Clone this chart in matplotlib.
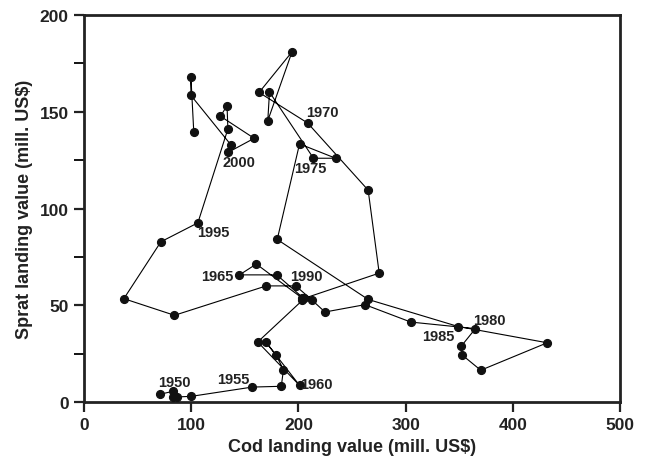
import matplotlib
matplotlib.use("Agg")
import matplotlib.pyplot as plt
from matplotlib.ticker import MultipleLocator

plt.rcParams['font.family'] = ['Liberation Sans', 'DejaVu Sans']
plt.rcParams['font.weight'] = 'bold'

# landing values per year, 1950-2004 (mill. US$)
years = list(range(1950, 2005))
cod = [71, 83, 83, 87, 100, 157, 184, 186, 179, 169.5,
       201, 162, 203.6, 203, 160.7, 145, 179.8, 205, 275.3, 265,
       208.6, 163.3, 194, 171.4, 173, 214, 234.7, 201, 180.2, 265,
       349, 432, 370, 352.4, 351.6, 365, 304.8, 262, 224.7, 212.4,
       197.5, 170, 84.4, 37.2, 71.7, 106.2, 134.2, 133.4, 127.3, 158.7,
       134.6, 136.9, 99.7, 99.7, 102.4]
sprat = [4.0, 5.5, 2.6, 2.6, 2.9, 7.7, 8.1, 16.7, 24.4, 31,
         8.6, 31, 52.5, 53.9, 71.3, 65.7, 65.7, 53.5, 66.6, 109.5,
         144.2, 160, 181, 145.4, 160.2, 126, 126, 133.4, 84, 53,
         39, 30.6, 16.4, 24.4, 28.7, 37.9, 41.3, 50.3, 46.5, 52.8,
         60, 60, 44.8, 53.4, 82.8, 92.6, 141.1, 153.2, 147.7, 136.3,
         129.1, 133, 158.5, 168.2, 139.4]

# year labels and where their text sits
label_years = [1950, 1955, 1960, 1965, 1970, 1975, 1980, 1985, 1990, 1995, 2000]
label_xy = [(84.7, 10.3), (139.7, 11.9), (216.5, 9.3), (124, 65), (222.2, 149.7),
            (211.5, 120.8), (378.3, 42.5), (330.7, 34.3), (207, 65), (120.9, 87.7),
            (144.1, 123.9)]

fig = plt.figure(figsize=(6.46, 4.60), dpi=100)
ax = fig.add_axes([0.130, 0.124, 0.830, 0.841])

ax.plot(cod, sprat, color='black', lw=0.8, marker='o', ms=5.6,
        mfc='#111111', mec='#111111', zorder=3)

for yr, (tx, ty) in zip(label_years, label_xy):
    ax.text(tx, ty, str(yr), ha='center', va='center', fontsize=10.5,
            fontweight='bold', color='#222222')

ax.set_xlim(0, 500)
ax.set_ylim(0, 200)
ax.xaxis.set_major_locator(MultipleLocator(100))
ax.yaxis.set_major_locator(MultipleLocator(50))
ax.yaxis.set_minor_locator(MultipleLocator(25))

for s in ax.spines.values():
    s.set_linewidth(2.0)
    s.set_color('#222222')
ax.tick_params(which='major', direction='out', length=7, width=1.6,
               labelsize=12.5, colors='#222222', pad=4)
ax.tick_params(which='minor', direction='out', length=7, width=1.3)
for lab in ax.get_xticklabels() + ax.get_yticklabels():
    lab.set_fontweight('bold')

ax.set_xlabel('Cod landing value (mill. US$)', fontsize=13, fontweight='bold',
              color='#222222', labelpad=4)
ax.set_ylabel('Sprat landing value (mill. US$)', fontsize=13, fontweight='bold',
              color='#222222', labelpad=5)

fig.savefig('out.png', dpi=100)
